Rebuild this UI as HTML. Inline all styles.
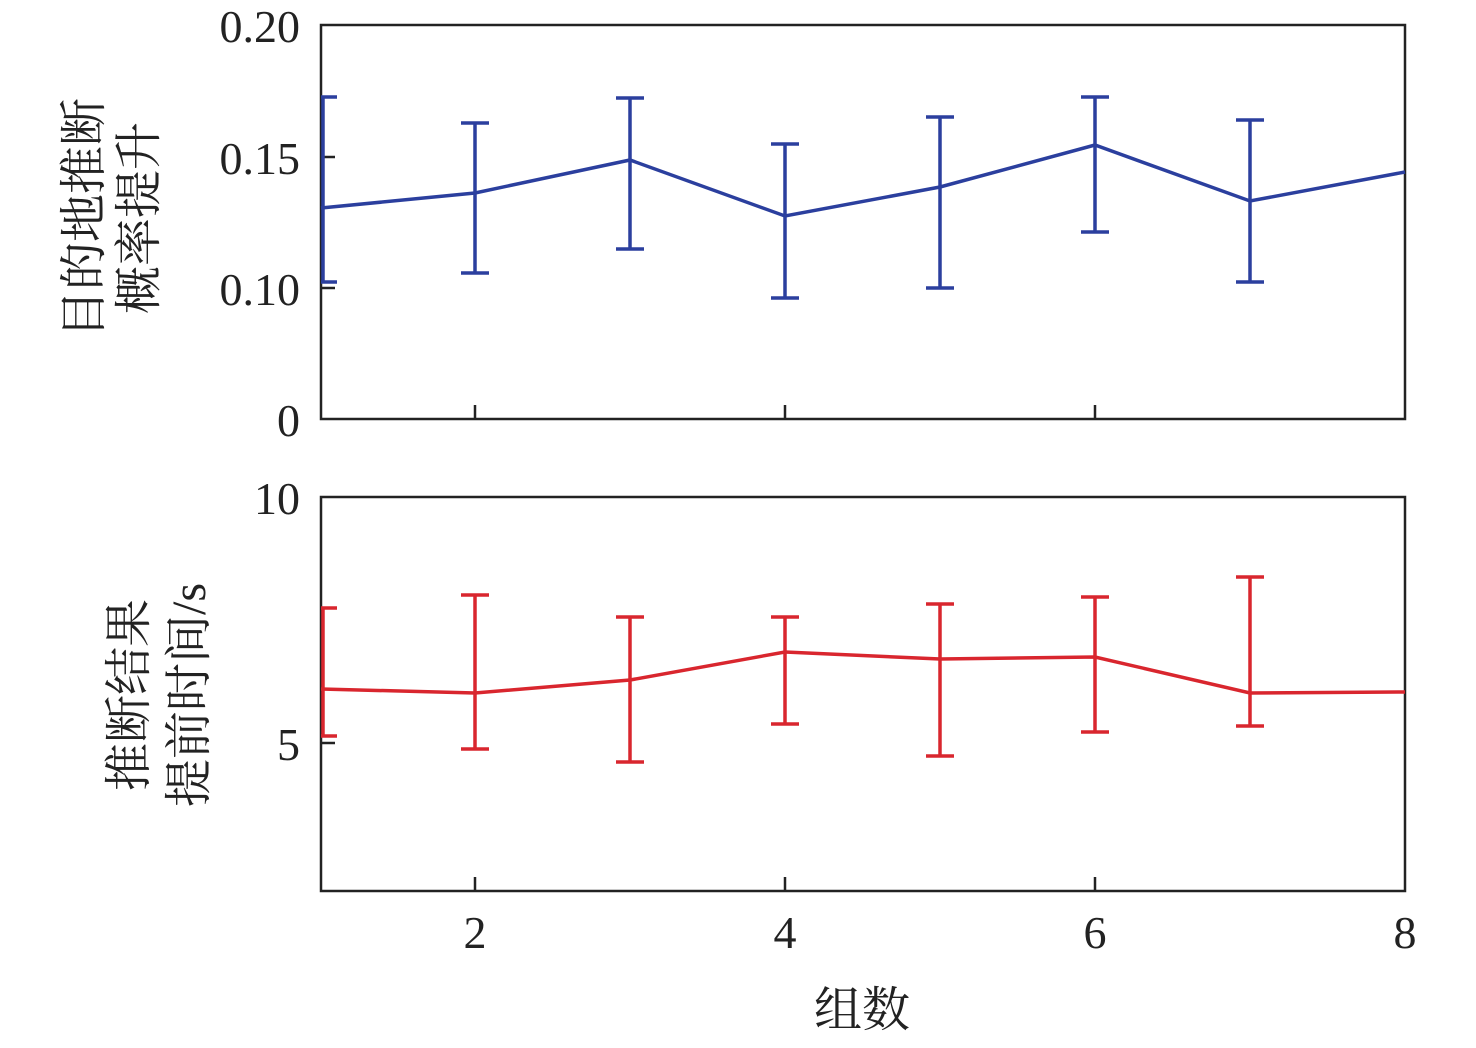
<!DOCTYPE html>
<html><head><meta charset="utf-8"><style>body{margin:0;background:#fff}</style></head><body>
<svg width="1476" height="1043" xmlns="http://www.w3.org/2000/svg" font-family="Liberation Serif, Noto Serif CJK SC, serif">
<rect width="1476" height="1043" fill="#fff"/>
<g fill="none" stroke="#222" stroke-width="2.5">
<rect x="321" y="25" width="1084" height="394"/>
<rect x="321" y="497" width="1084" height="394"/>
<path d="M475 419V405M785 419V405M1095 419V405M321 157H335M321 288H335M475 891V877M785 891V877M1095 891V877M321 743H335"/>
</g>
<g fill="#222" font-size="46" text-anchor="end" style="font-family:'Liberation Serif',serif">
<text x="300" y="42">0.20</text><text x="300" y="174">0.15</text><text x="300" y="305">0.10</text><text x="300" y="436">0</text>
<text x="300" y="514">10</text><text x="300" y="760">5</text>
</g>
<g fill="#222" font-size="46" text-anchor="middle" style="font-family:'Liberation Serif',serif">
<text x="475" y="948">2</text><text x="785" y="948">4</text><text x="1095" y="948">6</text><text x="1405" y="948">8</text>
</g>
<g fill="#222" font-size="48" text-anchor="middle">
<text x="862" y="1026">组数</text>
<text transform="translate(100,218) rotate(-90)">目的地推断</text>
<text transform="translate(155,218) rotate(-90)">概率提升</text>
<text transform="translate(145,695) rotate(-90)">推断结果</text>
<text transform="translate(205,695) rotate(-90)">提前时间/s</text>
</g>
<g stroke="#2b3f9e" stroke-width="3.5" fill="none">
<polyline points="321,208 475,193 630,160 785,216 940,187 1095,145 1250,201 1405,172"/>
<path d="M323,97V282M321,97H337M321,282H337
M475,123V273M461,123H489M461,273H489
M630,98V249M616,98H644M616,249H644
M785,144V298M771,144H799M771,298H799
M940,117V288M926,117H954M926,288H954
M1095,97V232M1081,97H1109M1081,232H1109
M1250,120V282M1236,120H1264M1236,282H1264"/>
</g>
<g stroke="#d9262e" stroke-width="3.5" fill="none">
<polyline points="321,689 475,693 630,680 785,652 940,659 1095,657 1250,693 1405,692"/>
<path d="M323,608V736M321,608H337M321,736H337
M475,595V749M461,595H489M461,749H489
M630,617V762M616,617H644M616,762H644
M785,617V724M771,617H799M771,724H799
M940,604V756M926,604H954M926,756H954
M1095,597V732M1081,597H1109M1081,732H1109
M1250,577V726M1236,577H1264M1236,726H1264"/>
</g>
</svg>
</body></html>
